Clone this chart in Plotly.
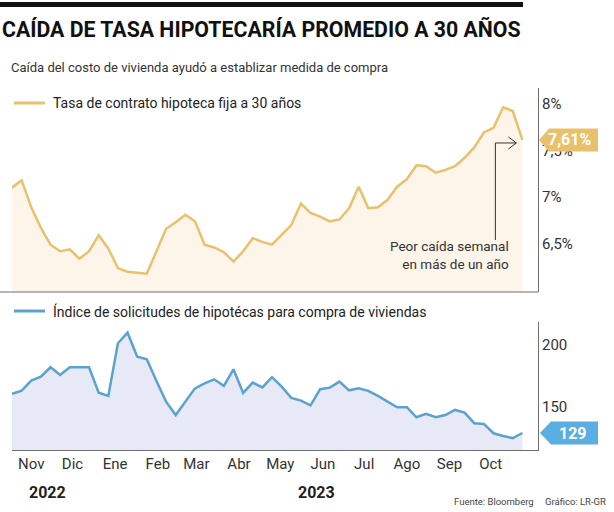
import pandas as pd
import plotly.graph_objects as go

# ---------------- data ----------------
start_date = "2022-10-28"
n_weeks = 54
rate_30y = [7.10, 7.18, 6.89, 6.67, 6.49, 6.42, 6.44, 6.34, 6.42, 6.59,
            6.45, 6.24, 6.20, 6.19, 6.18, 6.42, 6.66, 6.73, 6.81, 6.74,
            6.49, 6.46, 6.41, 6.31, 6.42, 6.56, 6.52, 6.49, 6.59, 6.70,
            6.93, 6.83, 6.79, 6.74, 6.76, 6.88, 7.11, 6.88, 6.89, 6.97,
            7.11, 7.19, 7.34, 7.33, 7.26, 7.29, 7.33, 7.42, 7.53, 7.69,
            7.74, 7.96, 7.92, 7.61]
purchase_index = [160.5, 163.2, 171.2, 174.4, 182.0, 175.8, 182.0, 182.0, 182.0, 161.5,
                  158.9, 201.4, 209.9, 190.6, 188.5, 171.0, 154.3, 143.5, 154.5, 165.0,
                  169.0, 172.3, 167.0, 180.4, 161.3, 169.6, 165.8, 174.0, 166.4, 157.3,
                  155.1, 151.2, 164.3, 165.6, 170.4, 163.4, 165.0, 163.0, 158.9, 154.3,
                  149.8, 149.8, 141.7, 144.4, 141.7, 143.5, 147.6, 145.4, 136.9, 136.3,
                  128.8, 126.6, 124.8, 129.0]
month_labels = ["Nov", "Dic", "Ene", "Feb", "Mar", "Abr", "May", "Jun", "Jul", "Ago", "Sep", "Oct"]
rate_ticks = [6.5, 7.0, 7.5, 8.0]
rate_tick_text = ["6,5%", "7%", "7,5%", "8%"]
index_ticks = [150, 200]
index_tick_text = ["150", "200"]
last_rate_label = "7,61%"
last_index_label = "129"

dates = pd.date_range(start_date, periods=n_weeks, freq="7D")
month_ticks = pd.date_range("2022-11-01", periods=12, freq="MS") + pd.Timedelta(days=10)

# ---------------- styling ----------------
W, H = 614, 512
FONT = "Roboto, 'Liberation Sans', sans-serif"
GOLD = "#E9C16C"
GOLD_FILL = "#FDF5EA"
BLUE = "#5CA2CE"
BLUE_FILL = "#E7EAF6"
BLUE_BOX = "#5AAEE2"
TXT = "#333333"
AXIS = "#6e6e6e"


def px(x):
    return x / W


def py(y):
    return 1 - y / H


x_left, x_right = 12, 538
x_range = [dates[0], dates[0] + pd.Timedelta(days=(x_right - x_left) / 9.63 * 7)]

fig = go.Figure()
fig.add_trace(go.Scatter(x=dates, y=rate_30y, mode="lines", fill="tozeroy",
                         fillcolor=GOLD_FILL, line=dict(color=GOLD, width=2.5),
                         xaxis="x", yaxis="y", hoverinfo="x+y"))
fig.add_trace(go.Scatter(x=dates, y=purchase_index, mode="lines", fill="tozeroy",
                         fillcolor=BLUE_FILL, line=dict(color=BLUE, width=2.5),
                         xaxis="x2", yaxis="y2", hoverinfo="x+y"))

shapes = [
    # top black bar
    dict(type="rect", xref="paper", yref="paper", x0=px(0), x1=px(523), y0=py(7), y1=py(2),
         fillcolor="#111111", line=dict(width=0)),
    # separator / top chart base line
    dict(type="line", xref="paper", yref="paper", x0=px(0), x1=px(538), y0=py(292), y1=py(292),
         line=dict(color=AXIS, width=1)),
    # legend lines
    dict(type="line", xref="paper", yref="paper", x0=px(14), x1=px(45), y0=py(103), y1=py(103),
         line=dict(color=GOLD, width=3)),
    dict(type="line", xref="paper", yref="paper", x0=px(14), x1=px(45), y0=py(311), y1=py(311),
         line=dict(color=BLUE, width=3)),
    # callout line with chevron
    dict(type="path", xref="x", yref="y", xsizemode="pixel", ysizemode="pixel",
         xanchor=dates[-1], yanchor=rate_30y[-1],
         path="M -27,-100 L -27,-3 L -6,-3 M -14,3 L -6,-3 L -14,-9",
         line=dict(color="#333333", width=1)),
    # value boxes
    dict(type="path", xref="paper", yref="y", xsizemode="pixel", ysizemode="pixel",
         xanchor=px(538), yanchor=rate_30y[-1],
         path="M 1,0 L 11,11.5 L 60,11.5 L 60,-11.5 L 11,-11.5 Z",
         fillcolor=GOLD, line=dict(width=0), layer="above"),
    dict(type="path", xref="paper", yref="y2", xsizemode="pixel", ysizemode="pixel",
         xanchor=px(538), yanchor=purchase_index[-1],
         path="M 2,0 L 13,11.5 L 60,11.5 L 60,-11.5 L 13,-11.5 Z",
         fillcolor=BLUE_BOX, line=dict(width=0), layer="above"),
]

ann = [
    dict(text="<b>CAÍDA DE TASA HIPOTECARÍA PROMEDIO A 30 AÑOS</b>", x=px(0), y=py(29),
         xanchor="left", yanchor="middle", font=dict(size=21.3, color="#111111")),
    dict(text="Caída del costo de vivienda ayudó a establizar medida de compra", x=px(9), y=py(67),
         xanchor="left", yanchor="middle", font=dict(size=13, color=TXT)),
    dict(text="Tasa de contrato hipoteca fija a 30 años", x=px(51), y=py(103),
         xanchor="left", yanchor="middle", font=dict(size=14, color="#222222")),
    dict(text="Índice de solicitudes de hipotécas para compra de viviendas", x=px(51), y=py(311),
         xanchor="left", yanchor="middle", font=dict(size=14, color="#222222")),
    dict(text="<b>2022</b>", x=px(47), y=py(492), xanchor="center", yanchor="middle",
         font=dict(size=16, color="#222222")),
    dict(text="<b>2023</b>", x=px(316), y=py(492), xanchor="center", yanchor="middle",
         font=dict(size=16, color="#222222")),
    dict(text="Fuente: Bloomberg", x=px(494), y=py(501), xanchor="center", yanchor="middle",
         font=dict(size=9.5, color="#444444")),
    dict(text="Gráfico: LR-GR", x=px(608), y=py(501), xanchor="right", yanchor="middle",
         font=dict(size=9.5, color="#444444")),
]
for a in ann:
    a.update(xref="paper", yref="paper", showarrow=False)

ann += [
    dict(text="Peor caída semanal<br>en más de un año", xref="x", yref="y", x=dates[-1], y=6.38,
         xanchor="right", yanchor="middle", xshift=-11, align="right", showarrow=False,
         font=dict(size=13.5, color=TXT)),
    dict(text="<b>" + last_rate_label + "</b>", xref="paper", yref="y", x=px(569), y=rate_30y[-1],
         xanchor="center", yanchor="middle", showarrow=False, font=dict(size=16, color="white")),
    dict(text="<b>" + last_index_label + "</b>", xref="paper", yref="y2", x=px(573),
         y=purchase_index[-1], xanchor="center", yanchor="middle", showarrow=False,
         font=dict(size=16, color="white")),
]

fig.update_layout(
    width=W, height=H, margin=dict(l=0, r=0, t=0, b=0),
    paper_bgcolor="white", plot_bgcolor="white", showlegend=False,
    font=dict(family=FONT, color=TXT),
    shapes=shapes, annotations=ann,
    xaxis=dict(domain=[px(x_left), px(x_right)], range=x_range, anchor="y",
               showticklabels=False, showgrid=False, zeroline=False, showline=False),
    xaxis2=dict(domain=[px(x_left), px(x_right)], range=x_range, anchor="y2", matches="x",
                tickvals=month_ticks, ticktext=month_labels, ticks="", showgrid=False,
                zeroline=False, showline=True, linecolor=AXIS, linewidth=1,
                tickfont=dict(size=15, color=TXT)),
    yaxis=dict(domain=[py(292), py(88)], range=[5.984, 8.166], side="right", anchor="x",
               tickvals=rate_ticks, ticktext=rate_tick_text, ticks="", showgrid=False,
               zeroline=False, showline=True, linecolor=AXIS, linewidth=1,
               tickfont=dict(size=15, color=TXT)),
    yaxis2=dict(domain=[py(450), py(322)], range=[115.3, 218.5], side="right", anchor="x2",
                tickvals=index_ticks, ticktext=index_tick_text, ticks="", showgrid=False,
                zeroline=False, showline=True, linecolor=AXIS, linewidth=1,
                tickfont=dict(size=15, color=TXT)),
)

fig.write_html("out.html", config={"displayModeBar": False},
               post_script="document.body.style.margin='0px';")
